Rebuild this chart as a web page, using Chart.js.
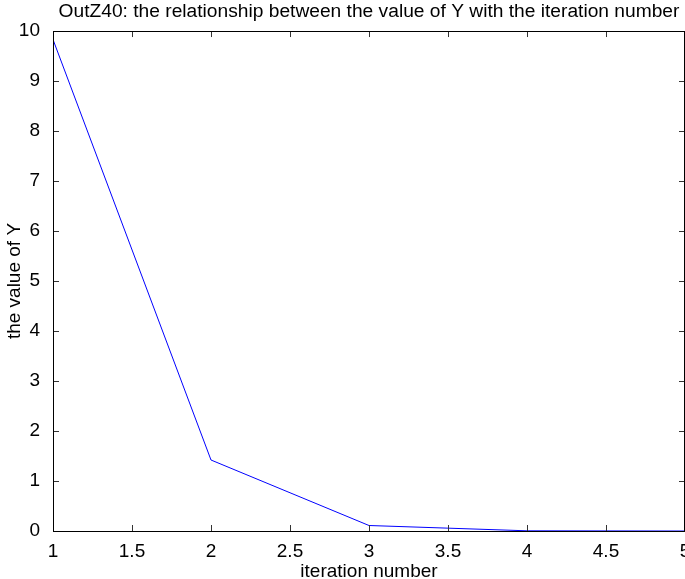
<!DOCTYPE html>
<html lang="en">
  <head>
    <meta charset="utf-8" />
    <title>OutZ40</title>
    <script src="https://cdn.jsdelivr.net/npm/chart.js@4.4.1/dist/chart.umd.min.js"></script>
    <style>
      body { margin: 0; background: #fff; }
    </style>
  </head>
  <body>
    <canvas id="myChart" width="685" height="579"></canvas>
    <script>
      // data
      var iterations = [1, 2, 3, 4, 5];
      var yValues = [9.83, 1.42, 0.11, 0.004, 0];
      var xTicks = [1, 1.5, 2, 2.5, 3, 3.5, 4, 4.5, 5];
      var yTicks = [0, 1, 2, 3, 4, 5, 6, 7, 8, 9, 10];

      var FONT = "'Liberation Sans', Arial, sans-serif";

      // matlab style box with inward ticks
      const boxTicks = {
        id: "boxTicks",
        afterDraw(chart) {
          const { ctx, chartArea: { top, right, bottom, left }, scales: { x, y } } = chart;
          ctx.save();
          ctx.strokeStyle = "#333";
          ctx.lineWidth = 1;
          ctx.beginPath();
          xTicks.forEach(function (v) {
            var px = Math.round(x.getPixelForValue(v)) + 0.5;
            ctx.moveTo(px, bottom);
            ctx.lineTo(px, bottom - 6);
            ctx.moveTo(px, top);
            ctx.lineTo(px, top + 6);
          });
          yTicks.forEach(function (v) {
            var py = Math.round(y.getPixelForValue(v)) + 0.5;
            ctx.moveTo(left, py);
            ctx.lineTo(left + 6, py);
            ctx.moveTo(right, py);
            ctx.lineTo(right - 6, py);
          });
          ctx.stroke();
          ctx.strokeStyle = "#000";
          ctx.strokeRect(Math.round(left) + 0.5, Math.round(top) + 0.5,
            Math.round(right - left) - 1, Math.round(bottom - top));
          ctx.restore();
        },
      };

      const config = {
        type: "line",
        data: {
          datasets: [
            {
              data: iterations.map(function (it, i) { return { x: it, y: yValues[i] }; }),
              borderColor: "#0000ff",
              borderWidth: 1,
              pointRadius: 0,
              tension: 0,
              fill: false,
            },
          ],
        },
        options: {
          responsive: false,
          animation: false,
          layout: { padding: 0 },
          plugins: {
            legend: { display: false },
            tooltip: { enabled: false },
            title: {
              display: true,
              text: "OutZ40: the relationship between the value of Y with the iteration number",
              color: "#000",
              fullSize: false,
              font: { family: FONT, size: 19.2, weight: "normal", lineHeight: 1.2 },
              padding: { top: 0, bottom: 8 },
            },
          },
          scales: {
            x: {
              type: "linear",
              min: 1,
              max: 5,
              afterBuildTicks: function (s) { s.ticks = xTicks.map(function (v) { return { value: v }; }); },
              afterFit: function (s) { s.height = 48; s.paddingLeft = 0; s.paddingRight = 0; },
              grid: { display: false },
              border: { display: false },
              ticks: {
                color: "#000",
                padding: 3,
                maxRotation: 0,
                autoSkip: false,
                font: { family: FONT, size: 19, lineHeight: 1 },
                callback: function (v) { return String(v); },
              },
              title: {
                display: true,
                text: "iteration number",
                color: "#000",
                padding: { top: 0, bottom: 0 },
                font: { family: FONT, size: 19, lineHeight: 0.8 },
              },
            },
            y: {
              min: 0,
              max: 10,
              afterBuildTicks: function (s) { s.ticks = yTicks.map(function (v) { return { value: v }; }); },
              afterFit: function (s) { s.width = 53; s.paddingTop = 0; s.paddingBottom = 0; },
              grid: { display: false },
              border: { display: false },
              ticks: {
                color: "#000",
                padding: 5,
                autoSkip: false,
                font: { family: FONT, size: 19 },
              },
              title: {
                display: true,
                text: "the value of Y",
                color: "#000",
                padding: { top: 3, bottom: 0 },
                font: { family: FONT, size: 19, lineHeight: 1.2 },
              },
            },
          },
        },
        plugins: [boxTicks],
      };
      var myChart = new Chart(document.getElementById("myChart"), config);
    </script>
  </body>
</html>
